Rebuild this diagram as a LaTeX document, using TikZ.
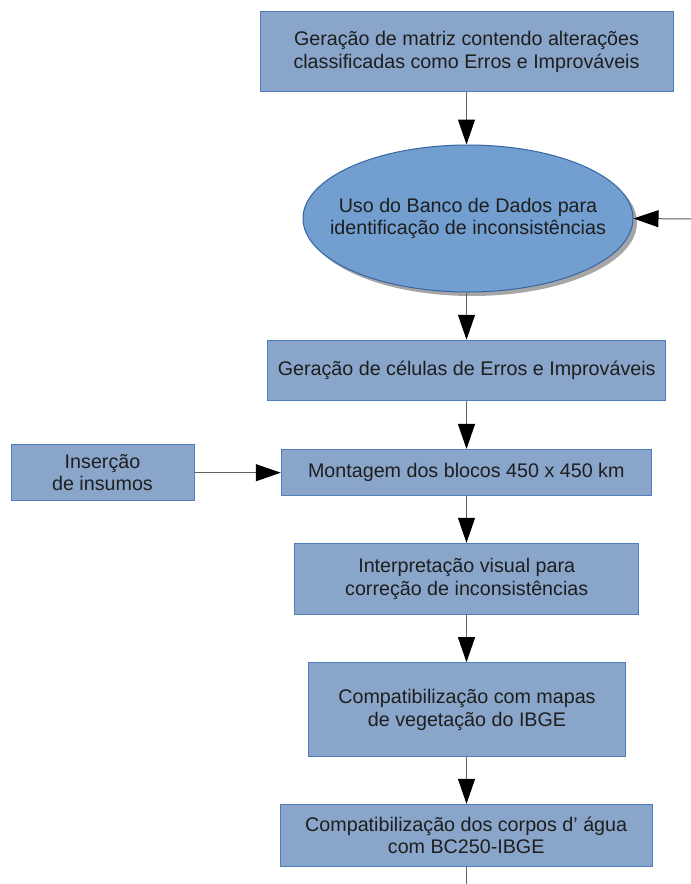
\documentclass[tikz,border=0pt]{standalone}
\usepackage{fontspec}
\setmainfont{Liberation Sans}
\usetikzlibrary{arrows.meta,shadows,shapes.geometric}
\definecolor{boxfill}{HTML}{89A6CA}
\definecolor{boxline}{HTML}{4F7EBD}
\definecolor{ellfill}{HTML}{729FCF}
\definecolor{ellline}{HTML}{3465A4}
\definecolor{txt}{HTML}{1E1E1E}
\definecolor{conn}{HTML}{606060}
\begin{document}
\begin{tikzpicture}[x=1pt,y=-1pt,
  lbl/.style={align=center,text=txt,font=\fontsize{19.7}{22.5}\selectfont,inner sep=0pt},
  box/.style={lbl,draw=boxline,fill=boxfill,line width=1pt,rectangle},
  ell/.style={draw=ellline,fill=ellfill,line width=1pt,ellipse,inner sep=0pt,
    drop shadow={shadow xshift=4pt,shadow yshift=-4pt,fill=black!35,opacity=1}},
  conn/.style={draw=conn,line width=1pt,-{Triangle[length=25pt,width=17pt,color=black]}}]
\useasboundingbox (0,0) rectangle (691,884);
\fill[white] (0,0) rectangle (691,884);
\coordinate (ax) at (466.5,0);
\node[box,minimum width=413pt,minimum height=80pt] (b1) at (466.5,51.7) {Geração de matriz contendo alterações\\classificadas como Erros e Improváveis};
\node[ell,minimum width=330pt,minimum height=147pt] (e1) at (468,218.5) {};
\node[lbl] (e1t) at (e1.center) {Uso do Banco de Dados para\\identificação de inconsistências};
\node[box,minimum width=398.5pt,minimum height=60.5pt] (b3) at (466.7,370.5) {Geração de células de Erros e Improváveis};
\node[box,minimum width=370pt,minimum height=46.5pt] (b4) at (466.3,472.7) {Montagem dos blocos 450 x 450 km};
\node[box,minimum width=183pt,minimum height=56.5pt] (ins) at (102.5,472.6) {Inserção\\de insumos};
\node[box,minimum width=344pt,minimum height=71pt] (b5) at (466.7,578.8) {Interpretação visual para\\correção de inconsistências};
\node[box,minimum width=316.6pt,minimum height=94pt] (b6) at (467,709.7) {Compatibilização com mapas\\de vegetação do IBGE};
\node[box,minimum width=372pt,minimum height=62.4pt] (b7) at (466.2,835.5) {Compatibilização dos corpos d’ água\\com BC250-IBGE};
\coordinate (rin) at (691,219);
\coordinate (bout) at (466.5,884);
\draw[conn] (b1.south -| ax) -- (e1.north -| ax);
\draw[conn] (rin) -- (e1.east);
\draw[conn] (e1.south -| ax) -- (b3.north -| ax);
\draw[conn] (b3.south -| ax) -- (b4.north -| ax);
\draw[conn] (ins.east |- b4.west) -- (b4.west);
\draw[conn] (b4.south -| ax) -- (b5.north -| ax);
\draw[conn] (b5.south -| ax) -- (b6.north -| ax);
\draw[conn] (b6.south -| ax) -- (b7.north -| ax);
\draw[draw=conn,line width=1pt] (b7.south -| bout) -- (bout);
\end{tikzpicture}
\end{document}
